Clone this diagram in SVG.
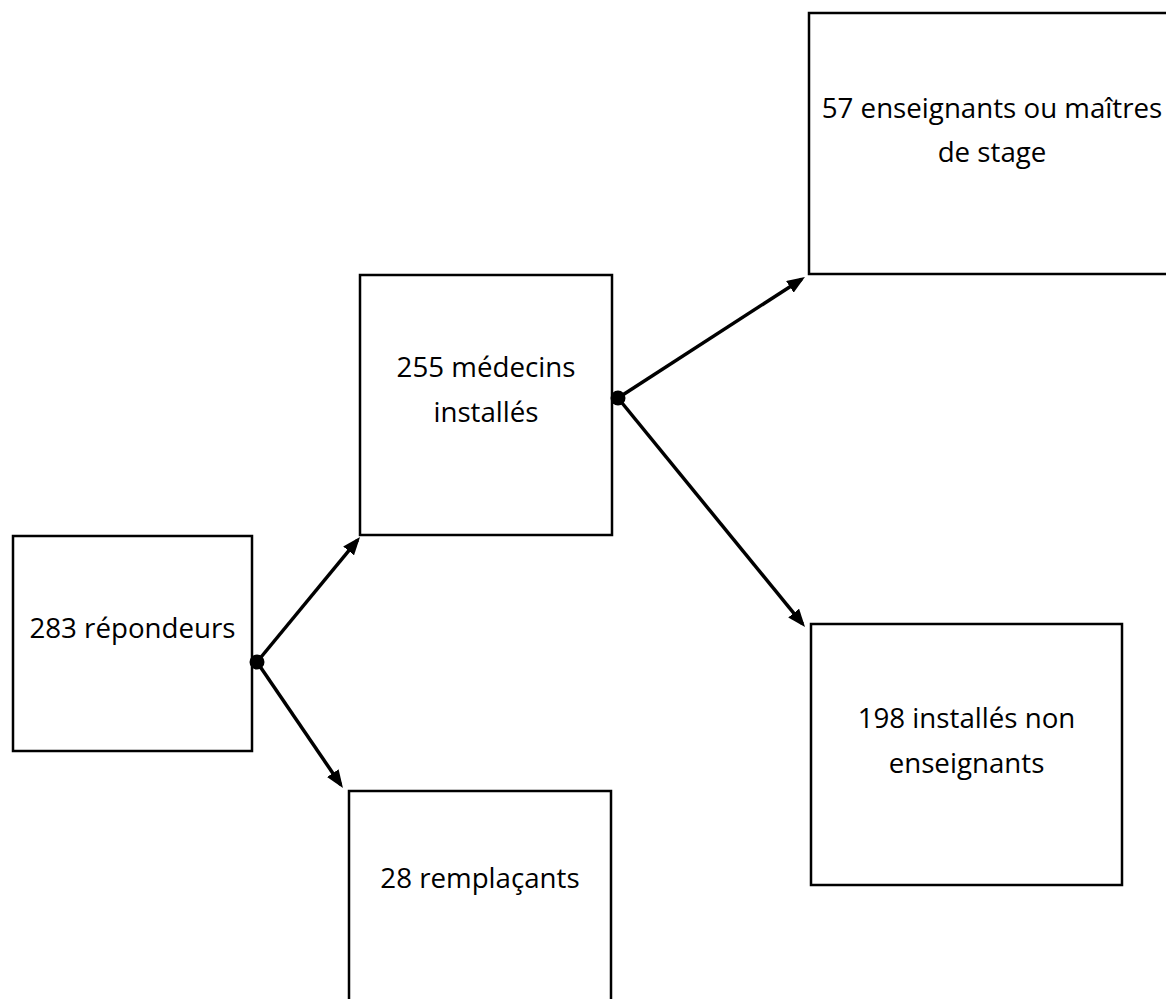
<svg xmlns="http://www.w3.org/2000/svg" width="1166" height="999" viewBox="0 0 1166 999">
  <defs>
    <marker id="arrow" markerUnits="userSpaceOnUse" markerWidth="18" markerHeight="14" refX="14" refY="7" orient="auto">
      <path d="M0,0 L18,7 L0,14 z" fill="#000"/>
    </marker>
    <style>
      .box { fill: #fff; stroke: #000; stroke-width: 2.5; }
      .lbl { font-family: "Open Sans", "Liberation Sans", sans-serif; font-size: 27.7px; fill: #000; text-anchor: middle; }
      .conn { stroke: #000; stroke-width: 3.5; fill: none; marker-end: url(#arrow); }
      .dot { fill: #000; }
    </style>
  </defs>
  <rect width="1166" height="999" fill="#fff"/>

  <g id="node-repondeurs">
    <rect class="box" x="13" y="536" width="239" height="215"/>
    <text class="lbl" x="132.5" y="638">283 répondeurs</text>
  </g>

  <g id="node-medecins">
    <rect class="box" x="360" y="275" width="252" height="260"/>
    <text class="lbl" x="486" y="377">255 médecins</text>
    <text class="lbl" x="486" y="422">installés</text>
  </g>

  <g id="node-enseignants">
    <rect class="box" x="809" y="13" width="366" height="261"/>
    <text class="lbl" x="992" y="118">57 enseignants ou maîtres</text>
    <text class="lbl" x="992" y="162">de stage</text>
  </g>

  <g id="node-non-enseignants">
    <rect class="box" x="811" y="624" width="311" height="261"/>
    <text class="lbl" x="966.5" y="728">198 installés non</text>
    <text class="lbl" x="966.5" y="773">enseignants</text>
  </g>

  <g id="node-remplacants">
    <rect class="box" x="349" y="791" width="262" height="230"/>
    <text class="lbl" x="480" y="888">28 remplaçants</text>
  </g>

  <g id="connectors">
    <line class="conn" x1="257" y1="662" x2="357.5" y2="540.1"/>
    <line class="conn" x1="257" y1="662" x2="340.7" y2="784.7"/>
    <line class="conn" x1="618" y1="398" x2="801.6" y2="279.2"/>
    <line class="conn" x1="618" y1="398" x2="802.5" y2="623.9"/>
    <circle class="dot" cx="257" cy="662" r="7.5"/>
    <circle class="dot" cx="618" cy="398" r="7.5"/>
  </g>
</svg>
